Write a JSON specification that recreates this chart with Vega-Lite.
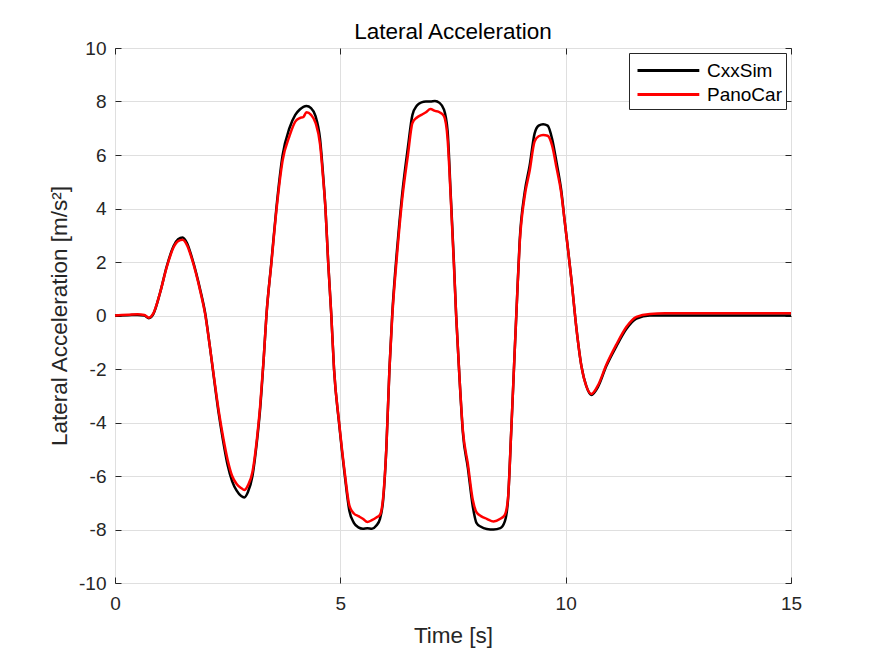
{
  "$schema": "https://vega.github.io/schema/vega-lite/v6.json",
  "autosize": "none",
  "width": 676,
  "height": 535,
  "padding": {"left": 115, "top": 48, "right": 84, "bottom": 73},
  "background": "white",
  "title": {
    "text": "Lateral Acceleration",
    "fontSize": 22.5,
    "fontWeight": "normal",
    "font": "Liberation Sans",
    "color": "#000000",
    "offset": -4
  },
  "config": {
    "font": "Liberation Sans",
    "view": {"stroke": "#262626", "strokeWidth": 1}
  },
  "data": {
    "values": [
      {"t": 0.0, "CxxSim": 0.0, "PanoCar": 0.0},
      {"t": 0.3, "CxxSim": 0.01, "PanoCar": 0.03},
      {"t": 0.5, "CxxSim": 0.02, "PanoCar": 0.05},
      {"t": 0.65, "CxxSim": 0.0, "PanoCar": 0.02},
      {"t": 0.75, "CxxSim": -0.1, "PanoCar": -0.08},
      {"t": 0.85, "CxxSim": 0.05, "PanoCar": 0.08},
      {"t": 1.0, "CxxSim": 0.85, "PanoCar": 0.85},
      {"t": 1.15, "CxxSim": 1.85, "PanoCar": 1.82},
      {"t": 1.3, "CxxSim": 2.6, "PanoCar": 2.55},
      {"t": 1.4, "CxxSim": 2.85, "PanoCar": 2.78},
      {"t": 1.5, "CxxSim": 2.92, "PanoCar": 2.83},
      {"t": 1.6, "CxxSim": 2.7, "PanoCar": 2.62},
      {"t": 1.7, "CxxSim": 2.2, "PanoCar": 2.15},
      {"t": 1.8, "CxxSim": 1.6, "PanoCar": 1.55},
      {"t": 1.9, "CxxSim": 0.9, "PanoCar": 0.85},
      {"t": 2.0, "CxxSim": 0.1, "PanoCar": 0.05},
      {"t": 2.1, "CxxSim": -1.1, "PanoCar": -1.1},
      {"t": 2.2, "CxxSim": -2.4, "PanoCar": -2.35},
      {"t": 2.3, "CxxSim": -3.65, "PanoCar": -3.55},
      {"t": 2.4, "CxxSim": -4.7, "PanoCar": -4.55},
      {"t": 2.5, "CxxSim": -5.6, "PanoCar": -5.4},
      {"t": 2.6, "CxxSim": -6.2, "PanoCar": -6.0},
      {"t": 2.7, "CxxSim": -6.55, "PanoCar": -6.3},
      {"t": 2.8, "CxxSim": -6.75, "PanoCar": -6.45},
      {"t": 2.87, "CxxSim": -6.8, "PanoCar": -6.52},
      {"t": 2.95, "CxxSim": -6.6, "PanoCar": -6.35},
      {"t": 3.05, "CxxSim": -6.0, "PanoCar": -5.85},
      {"t": 3.15, "CxxSim": -4.7, "PanoCar": -4.6},
      {"t": 3.22, "CxxSim": -3.5, "PanoCar": -3.4},
      {"t": 3.3, "CxxSim": -1.6, "PanoCar": -1.6},
      {"t": 3.36, "CxxSim": 0.0, "PanoCar": 0.0},
      {"t": 3.47, "CxxSim": 2.0, "PanoCar": 1.95},
      {"t": 3.58, "CxxSim": 4.0, "PanoCar": 3.9},
      {"t": 3.72, "CxxSim": 6.0, "PanoCar": 5.8},
      {"t": 3.87, "CxxSim": 7.0, "PanoCar": 6.7},
      {"t": 4.0, "CxxSim": 7.5, "PanoCar": 7.25},
      {"t": 4.1, "CxxSim": 7.7, "PanoCar": 7.38},
      {"t": 4.18, "CxxSim": 7.8, "PanoCar": 7.42},
      {"t": 4.25, "CxxSim": 7.83, "PanoCar": 7.6},
      {"t": 4.35, "CxxSim": 7.75, "PanoCar": 7.5},
      {"t": 4.45, "CxxSim": 7.45, "PanoCar": 7.2},
      {"t": 4.55, "CxxSim": 6.6, "PanoCar": 6.4},
      {"t": 4.62, "CxxSim": 5.2, "PanoCar": 5.1},
      {"t": 4.67, "CxxSim": 4.0, "PanoCar": 4.0},
      {"t": 4.73, "CxxSim": 2.0, "PanoCar": 2.0},
      {"t": 4.8, "CxxSim": 0.0, "PanoCar": 0.0},
      {"t": 4.86, "CxxSim": -2.0, "PanoCar": -2.0},
      {"t": 4.97, "CxxSim": -4.0, "PanoCar": -3.95},
      {"t": 5.1, "CxxSim": -6.0, "PanoCar": -5.9},
      {"t": 5.2, "CxxSim": -7.3, "PanoCar": -7.1},
      {"t": 5.3, "CxxSim": -7.75, "PanoCar": -7.4},
      {"t": 5.4, "CxxSim": -7.92, "PanoCar": -7.5},
      {"t": 5.5, "CxxSim": -7.97, "PanoCar": -7.6},
      {"t": 5.6, "CxxSim": -7.95, "PanoCar": -7.72},
      {"t": 5.7, "CxxSim": -7.97, "PanoCar": -7.65},
      {"t": 5.8, "CxxSim": -7.85, "PanoCar": -7.55},
      {"t": 5.88, "CxxSim": -7.6, "PanoCar": -7.45},
      {"t": 5.95, "CxxSim": -6.9, "PanoCar": -6.8},
      {"t": 6.02, "CxxSim": -5.0, "PanoCar": -5.0},
      {"t": 6.09, "CxxSim": -2.0, "PanoCar": -2.0},
      {"t": 6.15, "CxxSim": 0.0, "PanoCar": -0.1},
      {"t": 6.26, "CxxSim": 2.5, "PanoCar": 2.3},
      {"t": 6.37, "CxxSim": 4.5, "PanoCar": 4.3},
      {"t": 6.5, "CxxSim": 6.3, "PanoCar": 6.0},
      {"t": 6.6, "CxxSim": 7.5, "PanoCar": 7.2},
      {"t": 6.7, "CxxSim": 7.85, "PanoCar": 7.4},
      {"t": 6.8, "CxxSim": 7.97, "PanoCar": 7.5},
      {"t": 6.9, "CxxSim": 8.0, "PanoCar": 7.6},
      {"t": 7.0, "CxxSim": 8.0, "PanoCar": 7.72},
      {"t": 7.1, "CxxSim": 8.02, "PanoCar": 7.65},
      {"t": 7.2, "CxxSim": 7.95, "PanoCar": 7.6},
      {"t": 7.3, "CxxSim": 7.7, "PanoCar": 7.45},
      {"t": 7.38, "CxxSim": 6.9, "PanoCar": 6.6},
      {"t": 7.45, "CxxSim": 4.5, "PanoCar": 4.4},
      {"t": 7.52, "CxxSim": 2.0, "PanoCar": 1.9},
      {"t": 7.57, "CxxSim": 0.0, "PanoCar": 0.0},
      {"t": 7.65, "CxxSim": -2.5, "PanoCar": -2.5},
      {"t": 7.72, "CxxSim": -4.4, "PanoCar": -4.3},
      {"t": 7.83, "CxxSim": -5.7, "PanoCar": -5.55},
      {"t": 7.94, "CxxSim": -7.15, "PanoCar": -6.9},
      {"t": 8.02, "CxxSim": -7.75, "PanoCar": -7.35},
      {"t": 8.12, "CxxSim": -7.9, "PanoCar": -7.5},
      {"t": 8.25, "CxxSim": -7.98, "PanoCar": -7.6},
      {"t": 8.4, "CxxSim": -8.0, "PanoCar": -7.7},
      {"t": 8.55, "CxxSim": -7.95, "PanoCar": -7.6},
      {"t": 8.65, "CxxSim": -7.7, "PanoCar": -7.45},
      {"t": 8.72, "CxxSim": -6.9, "PanoCar": -6.85},
      {"t": 8.79, "CxxSim": -4.4, "PanoCar": -4.4},
      {"t": 8.87, "CxxSim": -1.3, "PanoCar": -1.3},
      {"t": 8.92, "CxxSim": 0.6, "PanoCar": 0.6},
      {"t": 8.98, "CxxSim": 2.8, "PanoCar": 2.7},
      {"t": 9.09, "CxxSim": 4.6, "PanoCar": 4.45},
      {"t": 9.2, "CxxSim": 5.6, "PanoCar": 5.4},
      {"t": 9.31, "CxxSim": 6.8, "PanoCar": 6.5},
      {"t": 9.4, "CxxSim": 7.1, "PanoCar": 6.7},
      {"t": 9.5, "CxxSim": 7.15, "PanoCar": 6.75},
      {"t": 9.6, "CxxSim": 7.1, "PanoCar": 6.72},
      {"t": 9.7, "CxxSim": 6.6, "PanoCar": 6.35},
      {"t": 9.8, "CxxSim": 5.7, "PanoCar": 5.5},
      {"t": 9.9, "CxxSim": 4.7, "PanoCar": 4.6},
      {"t": 9.98, "CxxSim": 3.5, "PanoCar": 3.5},
      {"t": 10.05, "CxxSim": 2.5, "PanoCar": 2.5},
      {"t": 10.13, "CxxSim": 1.3, "PanoCar": 1.3},
      {"t": 10.24, "CxxSim": -0.5, "PanoCar": -0.5},
      {"t": 10.35, "CxxSim": -1.9, "PanoCar": -1.9},
      {"t": 10.46, "CxxSim": -2.65, "PanoCar": -2.65},
      {"t": 10.57, "CxxSim": -2.97, "PanoCar": -2.93},
      {"t": 10.72, "CxxSim": -2.66, "PanoCar": -2.6},
      {"t": 10.9, "CxxSim": -1.9, "PanoCar": -1.85},
      {"t": 11.12, "CxxSim": -1.17, "PanoCar": -1.1},
      {"t": 11.35, "CxxSim": -0.5, "PanoCar": -0.42},
      {"t": 11.57, "CxxSim": -0.12, "PanoCar": -0.05},
      {"t": 11.87, "CxxSim": 0.0, "PanoCar": 0.06},
      {"t": 12.2, "CxxSim": 0.0, "PanoCar": 0.08},
      {"t": 13.0, "CxxSim": 0.0, "PanoCar": 0.08},
      {"t": 14.0, "CxxSim": 0.0, "PanoCar": 0.08},
      {"t": 15.0, "CxxSim": 0.0, "PanoCar": 0.08}
    ]
  },
  "transform": [
    {"fold": ["CxxSim", "PanoCar"], "as": ["series", "value"]}
  ],
  "layer": [
    {
      "mark": {"type": "line", "strokeWidth": 2.5, "interpolate": "monotone"},
      "encoding": {
        "x": {
          "field": "t",
          "type": "quantitative",
          "scale": {"domain": [0, 15], "nice": false},
          "axis": {
            "title": "Time [s]",
            "values": [0, 5, 10, 15],
            "labelFlush": false,
            "grid": true,
            "gridColor": "#dfdfdf",
            "domain": false,
            "tickSize": -6,
            "tickColor": "#262626",
            "labelFontSize": 19,
            "labelColor": "#262626",
            "labelPadding": 17,
            "titleFontSize": 22.5,
            "titleFontWeight": "normal",
            "titleColor": "#262626",
            "titlePadding": 11
          }
        },
        "y": {
          "field": "value",
          "type": "quantitative",
          "scale": {"domain": [-10, 10], "nice": false},
          "axis": {
            "title": "Lateral Acceleration [m/s²]",
            "values": [-10, -8, -6, -4, -2, 0, 2, 4, 6, 8, 10],
            "labelExpr": "'' + datum.value",
            "grid": true,
            "gridColor": "#dfdfdf",
            "domain": false,
            "tickSize": -6,
            "tickColor": "#262626",
            "labelFontSize": 19,
            "labelColor": "#262626",
            "labelPadding": 15,
            "titleFontSize": 22.5,
            "titleFontWeight": "normal",
            "titleColor": "#262626",
            "titlePadding": 7
          }
        },
        "color": {
          "field": "series",
          "type": "nominal",
          "scale": {"domain": ["CxxSim", "PanoCar"], "range": ["#000000", "#ff0000"]},
          "legend": {
            "title": null,
            "orient": "top-right",
            "offset": 5,
            "fillColor": "white",
            "strokeColor": "#262626",
            "padding": 4,
            "cornerRadius": 0,
            "symbolType": "M-0.75,0H4.4",
            "symbolSize": 576,
            "symbolStrokeWidth": 3,
            "labelOffset": 47,
            "labelFontSize": 19,
            "labelColor": "#000000",
            "rowPadding": 0
          }
        }
      }
    },
    {
      "mark": {"type": "line", "opacity": 0},
      "encoding": {
        "x": {
          "field": "t",
          "type": "quantitative",
          "axis": {
            "orient": "top",
            "values": [0, 5, 10, 15],
            "labels": false,
            "title": null,
            "grid": false,
            "domain": false,
            "tickSize": -6,
            "tickColor": "#262626"
          }
        },
        "y": {
          "field": "value",
          "type": "quantitative",
          "axis": {
            "orient": "right",
            "values": [-10, -8, -6, -4, -2, 0, 2, 4, 6, 8, 10],
            "labels": false,
            "title": null,
            "grid": false,
            "domain": false,
            "tickSize": -6,
            "tickColor": "#262626"
          }
        },
        "detail": {"field": "series"}
      }
    }
  ],
  "resolve": {"axis": {"x": "independent", "y": "independent"}}
}
